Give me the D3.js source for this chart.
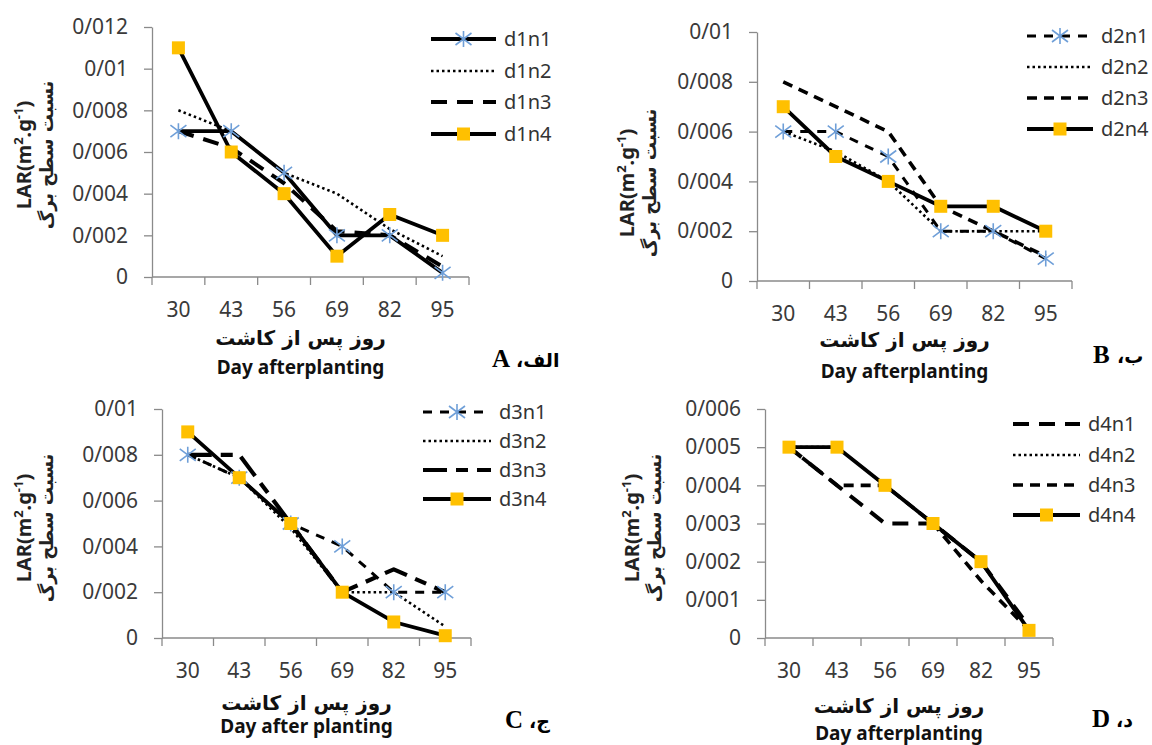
<!DOCTYPE html>
<html>
<head>
<meta charset="utf-8">
<script src="https://cdn.jsdelivr.net/npm/d3@7"></script>
<style>
  body { margin: 0; background: #fff; }
  svg { display: block; }
  .tick text { font-family: "Noto Sans", sans-serif; font-size: 21px; fill: #3a3a3a; }
  .axis path, .axis line { stroke: #8a8a8a; stroke-width: 1.3; }
  .legendText { font-family: "Noto Sans", sans-serif; font-size: 20px; fill: #333; }
</style>
</head>
<body>
<div id="graphic"></div>
<script>
// days after planting (categories)
var days = ["30", "43", "56", "69", "82", "95"];

// panel A
var d1n1 = [0.007, 0.007, 0.005, 0.002, 0.002, 0.0002];
var d1n2 = [0.008, 0.007, 0.005, 0.004, 0.0023, 0.001];
var d1n3 = [0.007, 0.0062, 0.0045, 0.0022, 0.002, 0.0005];
var d1n4 = [0.011, 0.006, 0.004, 0.001, 0.003, 0.002];
// panel B
var d2n1 = [0.006, 0.006, 0.005, 0.002, 0.002, 0.0009];
var d2n2 = [0.006, 0.0052, 0.004, 0.002, 0.002, 0.002];
var d2n3 = [0.008, 0.007, 0.006, 0.003, 0.002, 0.001];
var d2n4 = [0.007, 0.005, 0.004, 0.003, 0.003, 0.002];
// panel C
var d3n1 = [0.008, 0.007, 0.005, 0.004, 0.002, 0.002];
var d3n2 = [0.008, 0.007, 0.0048, 0.002, 0.002, 0.0005];
var d3n3 = [0.008, 0.008, 0.005, 0.002, 0.003, 0.002];
var d3n4 = [0.009, 0.007, 0.005, 0.002, 0.0007, 0.0001];
// panel D
var d4n1 = [0.005, 0.004, 0.003, 0.003, 0.002, 0.0003];
var d4n2 = [0.005, 0.005, 0.004, 0.003, 0.002, 0.0002];
var d4n3 = [0.005, 0.004, 0.004, 0.003, 0.0015, 0.0002];
var d4n4 = [0.005, 0.005, 0.004, 0.003, 0.002, 0.0002];

// y tick values
var yTicksA = [0, 0.002, 0.004, 0.006, 0.008, 0.01, 0.012];
var yTicksB = [0, 0.002, 0.004, 0.006, 0.008, 0.01];
var yTicksC = [0, 0.002, 0.004, 0.006, 0.008, 0.01];
var yTicksD = [0, 0.001, 0.002, 0.003, 0.004, 0.005, 0.006];

var yTitle = "نسبت سطح برگ";
var xTitleFa = "روز پس از کاشت";

// line styles
var st = {
  solidStar: { dash: null, w: 3.8, marker: "star" },
  dashStar: { dash: "9,8", w: 3, marker: "star" },
  dotted: { dash: "2.5,3", w: 2.6, marker: null },
  longDash: { dash: "16,10", w: 4, marker: null },
  dash: { dash: "10,7", w: 3.6, marker: null },
  longShort: { dash: "24,9,12,9", w: 4.2, marker: null },
  solidSquare: { dash: null, w: 3.8, marker: "square" }
};

var panels = [
  { left: 152, right: 469, top: 27, bottom: 277, ticks: yTicksA,
    series: [["d1n1", d1n1, st.solidStar], ["d1n2", d1n2, st.dotted], ["d1n3", d1n3, st.longDash], ["d1n4", d1n4, st.solidSquare]],
    legend: { x1: 431, x2: 496, y: [39, 71, 102, 134] },
    ylab: { x: 24, y: 155 }, xlab: { fa: 345, en: 374 }, tag: { x: 492, y: 367, en: "A", fa: "الف،" }, xEn: "Day afterplanting" },
  { left: 757, right: 1072, top: 32, bottom: 281, ticks: yTicksB,
    series: [["d2n1", d2n1, st.dashStar], ["d2n2", d2n2, st.dotted], ["d2n3", d2n3, st.dash], ["d2n4", d2n4, st.solidSquare]],
    legend: { x1: 1027, x2: 1093, y: [36, 67, 98, 129] },
    ylab: { x: 627, y: 183 }, xlab: { fa: 347, en: 378 }, tag: { x: 1093, y: 363, en: "B", fa: "ب،" }, xEn: "Day afterplanting" },
  { left: 162, right: 471, top: 409, bottom: 638, ticks: yTicksC,
    series: [["d3n1", d3n1, st.dashStar], ["d3n2", d3n2, st.dotted], ["d3n3", d3n3, st.longShort], ["d3n4", d3n4, st.solidSquare]],
    legend: { x1: 423, x2: 491, y: [412, 441, 470, 499] },
    ylab: { x: 24, y: 528 }, xlab: { fa: 710, en: 733 }, tag: { x: 505, y: 728, en: "C", fa: "ج،" }, xEn: "Day after planting" },
  { left: 765, right: 1053, top: 409, bottom: 638, ticks: yTicksD,
    series: [["d4n1", d4n1, st.longDash], ["d4n2", d4n2, st.dotted], ["d4n3", d4n3, st.dash], ["d4n4", d4n4, st.solidSquare]],
    legend: { x1: 1013, x2: 1080, y: [424, 455, 485, 515] },
    ylab: { x: 632, y: 528 }, xlab: { fa: 713, en: 740 }, tag: { x: 1092, y: 727, en: "D", fa: "د،" }, xEn: "Day afterplanting" }
];

var fmt = function(v) { return v === 0 ? "0" : d3.format("~g")(v).replace(".", "/"); };

var svg = d3.select("#graphic").append("svg")
  .attr("width", 1152).attr("height", 745)
  .style("background-color", "#fff");

function drawMarker(g, type, cx, cy) {
  if (type === "square") {
    g.append("rect").attr("x", cx - 6.5).attr("y", cy - 6.5).attr("width", 13).attr("height", 13)
      .attr("fill", "#FFC000");
  } else if (type === "star") {
    var r = 8;
    g.append("path")
      .attr("d", "M" + (cx - r) + "," + (cy - r * 0.75) + "L" + (cx + r) + "," + (cy + r * 0.75) +
        "M" + (cx - r) + "," + (cy + r * 0.75) + "L" + (cx + r) + "," + (cy - r * 0.75) +
        "M" + cx + "," + (cy - r) + "L" + cx + "," + (cy + r))
      .attr("stroke", "#6f9fd8").attr("stroke-width", 1.6).attr("fill", "none");
  }
}

panels.forEach(function(p) {
  var x = d3.scaleBand().domain(days).range([p.left, p.right]).padding(0);
  var y = d3.scaleLinear().domain([0, p.ticks[p.ticks.length - 1]]).range([p.bottom, p.top]);
  var g = svg.append("g");

  // y axis
  g.append("g").attr("class", "axis")
    .attr("transform", "translate(" + p.left + ",0)")
    .call(d3.axisLeft(y).tickValues(p.ticks).tickFormat(fmt).tickSize(8).tickSizeOuter(0).tickPadding(16));

  // x axis: ticks on category boundaries
  var xa = g.append("g").attr("class", "axis");
  xa.append("line").attr("x1", p.left).attr("x2", p.right).attr("y1", p.bottom).attr("y2", p.bottom);
  xa.selectAll("line.tk").data(days.concat(["end"])).join("line").attr("class", "tk")
    .attr("x1", function(d, i) { return i < days.length ? x(d) : p.right; })
    .attr("x2", function(d, i) { return i < days.length ? x(d) : p.right; })
    .attr("y1", p.bottom).attr("y2", p.bottom + 8);
  g.append("g").attr("class", "tick").selectAll("text").data(days).join("text")
    .attr("x", function(d) { return x(d) + x.bandwidth() / 2; })
    .attr("y", p.bottom + 40)
    .attr("text-anchor", "middle")
    .text(function(d) { return d; });

  var line = d3.line()
    .x(function(d, i) { return x(days[i]) + x.bandwidth() / 2; })
    .y(function(d) { return y(d); });

  p.series.forEach(function(s) {
    g.append("path").attr("d", line(s[1]))
      .attr("fill", "none").attr("stroke", "#000")
      .attr("stroke-width", s[2].w)
      .attr("stroke-dasharray", s[2].dash)
      .attr("stroke-linejoin", "round");
  });
  p.series.forEach(function(s) {
    if (!s[2].marker) return;
    s[1].forEach(function(v, i) {
      drawMarker(g, s[2].marker, x(days[i]) + x.bandwidth() / 2, y(v));
    });
  });

  // legend
  p.series.forEach(function(s, i) {
    var ly = p.legend.y[i];
    g.append("line").attr("x1", p.legend.x1).attr("x2", p.legend.x2).attr("y1", ly).attr("y2", ly)
      .attr("stroke", "#000").attr("stroke-width", s[2].w).attr("stroke-dasharray", s[2].dash);
    if (s[2].marker) drawMarker(g, s[2].marker, (p.legend.x1 + p.legend.x2) / 2, ly);
    g.append("text").attr("class", "legendText")
      .attr("x", p.legend.x2 + 8).attr("y", ly + 7)
      .text(s[0]);
  });

  // y title
  var yl = g.append("g").attr("transform", "translate(" + p.ylab.x + "," + p.ylab.y + ") rotate(-90)");
  var t = yl.append("text").attr("text-anchor", "middle").attr("y", 7)
    .style("font-family", "'Noto Sans', sans-serif").style("font-weight", "bold").style("font-size", "20px").attr("fill", "#222");
  t.append("tspan").text("LAR(m");
  t.append("tspan").attr("dy", -8).style("font-size", "13px").text("2");
  t.append("tspan").attr("dy", 8).text(".g");
  t.append("tspan").attr("dy", -8).style("font-size", "13px").text("-1");
  t.append("tspan").attr("dy", 8).text(")");
  yl.append("text").attr("text-anchor", "middle").attr("y", 29)
    .style("font-family", "'DejaVu Sans', sans-serif").style("font-weight", "bold").style("font-size", "18px").attr("fill", "#222")
    .text(yTitle);

  // x titles
  var cx = (p.left + p.right) / 2 - 10;
  g.append("text").attr("x", cx).attr("y", p.xlab.fa).attr("text-anchor", "middle")
    .style("font-family", "'DejaVu Sans', sans-serif").style("font-weight", "bold").style("font-size", "20px").attr("fill", "#111")
    .text(xTitleFa);
  g.append("text").attr("x", cx).attr("y", p.xlab.en).attr("text-anchor", "middle")
    .style("font-family", "'Noto Sans', sans-serif").style("font-weight", "bold").style("font-size", "19px").attr("fill", "#111")
    .text(p.xEn);

  // panel tag: latin letter, then the persian letter to its right
  g.append("text").attr("x", p.tag.x).attr("y", p.tag.y)
    .style("font-family", "'Liberation Serif', serif").style("font-weight", "bold").style("font-size", "25px")
    .text(p.tag.en);
  g.append("text").attr("x", p.tag.x + 24).attr("y", p.tag.y)
    .attr("direction", "rtl").attr("text-anchor", "end")
    .style("font-family", "'DejaVu Sans', sans-serif").style("font-weight", "bold").style("font-size", "19px")
    .text(p.tag.fa);
});
</script>
</body>
</html>
